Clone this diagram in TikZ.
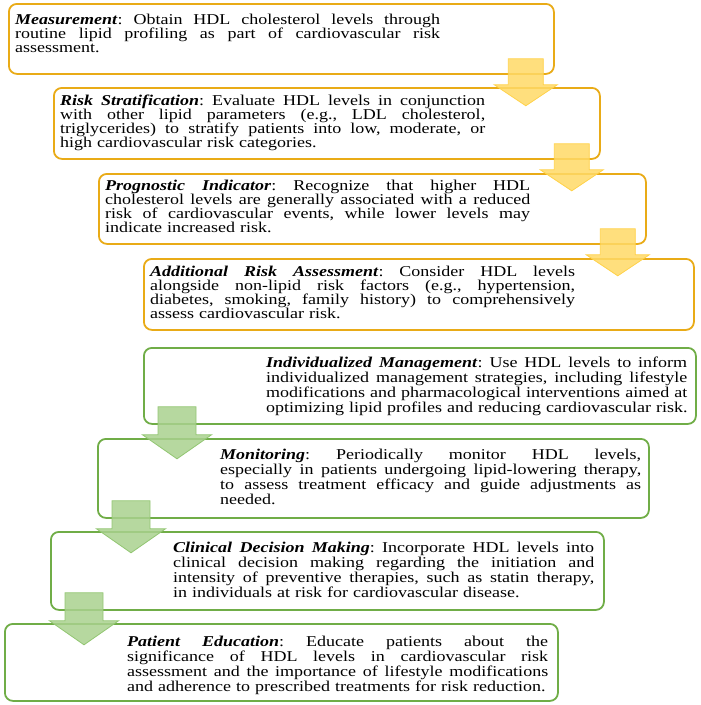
\documentclass[tikz,border=0pt]{standalone}
\usepackage{fontspec}
\setmainfont{Liberation Serif}[FakeStretch=1.2]
\usetikzlibrary{calc}
\definecolor{ygold}{HTML}{E9AB17}
\definecolor{yarrowfill}{HTML}{FFD966}
\definecolor{yarrowline}{HTML}{FFD24A}
\definecolor{ggreen}{HTML}{70AD47}
\definecolor{garrowfill}{HTML}{A9D18E}
\definecolor{garrowline}{HTML}{92C672}
\newcommand\YL[1]{\makebox[425pt][s]{\frenchspacing\spaceskip=0pt\xspaceskip=0pt #1}\\}
\newcommand\GL[1]{\makebox[421pt][s]{\frenchspacing\spaceskip=0pt\xspaceskip=0pt #1}\\}
\newcommand\hd[1]{\textbf{\textit{#1}}}
\newcommand\YArrow[1]{\draw[yarr, shift={(#1)}] (-17.5,-16) -- (17.5,-16) -- (17.5,10) -- (31.5,10) -- (0,31) -- (-31.5,10) -- (-17.5,10) -- cycle;}
\newcommand\GArrow[1]{\draw[garr, shift={(#1)}] (-19,-18) -- (19,-18) -- (19,10) -- (34.5,10) -- (0,34) -- (-34.5,10) -- (-19,10) -- cycle;}
\begin{document}
\begin{tikzpicture}[x=1pt,y=-1pt,
  boxbase/.style={draw, line width=1.8pt, rounded corners=8pt, anchor=north west, inner sep=0pt},
  ybox/.style={boxbase, draw=ygold},
  gbox/.style={boxbase, draw=ggreen},
  txt/.style={anchor=base west, inner sep=0pt, text width=440pt, align=left, font=\fontsize{15}{14}\selectfont, execute at begin node={\setlength{\lineskiplimit}{-30pt}\frenchspacing}},
  gtxt/.style={txt, font=\fontsize{15}{15}\selectfont},
  yarr/.style={fill=yarrowfill, draw=yarrowline, line width=0.8pt, fill opacity=0.85},
  garr/.style={fill=garrowfill, draw=garrowline, line width=0.8pt, fill opacity=0.85},
]
\useasboundingbox (0,0) rectangle (701,705);
% boxes
\node[ybox, minimum width=545pt, minimum height=70pt] (b1) at (8,3) {};
\node[ybox, minimum width=546pt, minimum height=71pt] (b2) at (53,87) {};
\node[ybox, minimum width=547pt, minimum height=70pt] (b3) at (98,173) {};
\node[ybox, minimum width=550pt, minimum height=71pt] (b4) at (143,258) {};
\node[gbox, minimum width=552pt, minimum height=76pt] (b5) at (143,347) {};
\node[gbox, minimum width=551pt, minimum height=79pt] (b6) at (97,438) {};
\node[gbox, minimum width=553pt, minimum height=78pt] (b7) at (50,531) {};
\node[gbox, minimum width=553pt, minimum height=77pt] (b8) at (4,623) {};
% texts
\node[txt] (t1) at ($(b1.north west)+(7,21)$) {%
\YL{\hd{Measurement}: Obtain HDL cholesterol levels through}
\YL{routine lipid profiling as part of cardiovascular risk}
assessment.};
\node[txt] (t2) at ($(b2.north west)+(7,18.5)$) {%
\YL{\hd{Risk Stratification}: Evaluate HDL levels in conjunction}
\YL{with other lipid parameters (e.g., LDL cholesterol,}
\YL{triglycerides) to stratify patients into low, moderate, or}
high cardiovascular risk categories.};
\node[txt] (t3) at ($(b3.north west)+(7,17.5)$) {%
\YL{\hd{Prognostic Indicator}: Recognize that higher HDL}
\YL{cholesterol levels are generally associated with a reduced}
\YL{risk of cardiovascular events, while lower levels may}
indicate increased risk.};
\node[txt] (t4) at ($(b4.north west)+(7,18.5)$) {%
\YL{\hd{Additional Risk Assessment}: Consider HDL levels}
\YL{alongside non-lipid risk factors (e.g., hypertension,}
\YL{diabetes, smoking, family history) to comprehensively}
assess cardiovascular risk.};
\node[gtxt] (t5) at ($(b5.north west)+(123,20)$) {%
\GL{\hd{Individualized Management}: Use HDL levels to inform}
\GL{individualized management strategies, including lifestyle}
\GL{modifications and pharmacological interventions aimed at}
optimizing lipid profiles and reducing cardiovascular risk.};
\node[gtxt] (t6) at ($(b6.north west)+(123,21)$) {%
\GL{\hd{Monitoring}: Periodically monitor HDL levels,}
\GL{especially in patients undergoing lipid-lowering therapy,}
\GL{to assess treatment efficacy and guide adjustments as}
needed.};
\node[gtxt] (t7) at ($(b7.north west)+(123,21)$) {%
\GL{\hd{Clinical Decision Making}: Incorporate HDL levels into}
\GL{clinical decision making regarding the initiation and}
\GL{intensity of preventive therapies, such as statin therapy,}
in individuals at risk for cardiovascular disease.};
\node[gtxt] (t8) at ($(b8.north west)+(123,23)$) {%
\GL{\hd{Patient Education}: Educate patients about the}
\GL{significance of HDL levels in cardiovascular risk}
\GL{assessment and the importance of lifestyle modifications}
and adherence to prescribed treatments for risk reduction.};
% arrows
\coordinate (a1) at ($(b1.south east)+(-29,0)$);
\coordinate (a2) at ($(b2.south east)+(-29,0)$);
\coordinate (a3) at ($(b3.south east)+(-29,0)$);
\coordinate (a5) at ($(b5.south west)+(34,0)$);
\coordinate (a6) at ($(b6.south west)+(34,0)$);
\coordinate (a7) at ($(b7.south west)+(34,0)$);
\YArrow{a1}
\YArrow{a2}
\YArrow{a3}
\GArrow{a5}
\GArrow{a6}
\GArrow{a7}
\end{tikzpicture}
\end{document}
